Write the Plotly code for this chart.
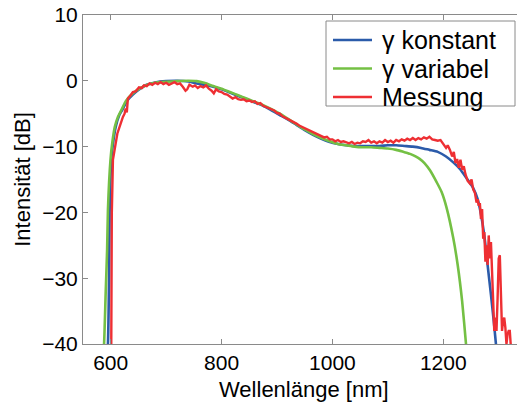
import plotly.graph_objects as go

# Simulated spectrum, constant nonlinear coefficient
konst_nm = [593, 595, 597, 598, 601, 605, 609, 615, 621, 630, 640, 650, 665, 680, 700, 720,
            740, 755, 770, 785, 800, 815, 830, 845, 860, 875, 890, 905, 920, 935, 950, 965,
            980, 995, 1010, 1025, 1040, 1055, 1070, 1085, 1100, 1115, 1130, 1145, 1160, 1175,
            1190, 1205, 1218, 1230, 1242, 1254, 1262, 1268, 1274, 1280, 1286, 1291, 1295, 1298]
konst_db = [-42, -40, -30, -20, -12, -9, -7, -5.3, -4.4, -3.0, -2.1, -1.4, -0.6, -0.25, -0.05, 0,
            -0.1, -0.4, -0.6, -0.9, -1.3, -1.8, -2.3, -2.8, -3.3, -3.8, -4.5, -5.2, -5.9, -6.7, -7.5, -8.2,
            -8.8, -9.3, -9.6, -9.8, -9.9, -9.9, -9.9, -9.9, -9.8, -9.8, -9.9, -10.0, -10.2, -10.5,
            -10.8, -11.5, -12.4, -13.4, -14.8, -16.3, -18.0, -20.3, -23.5, -28.0, -32.5, -36.5, -40, -43]

# Simulated spectrum, wavelength-dependent nonlinear coefficient
var_nm = [586, 588, 591, 593.5, 595, 599.6, 603, 607.4, 613, 619.5, 628, 640, 652, 665, 680, 700,
          720, 740, 755, 770, 785, 800, 815, 830, 845, 860, 875, 890, 905, 920, 935, 950,
          965, 980, 995, 1010, 1025, 1040, 1055, 1070, 1085, 1100, 1115, 1128, 1140, 1150,
          1158, 1166, 1176, 1188, 1197, 1206, 1218, 1226, 1234, 1241, 1243]
var_db = [-42, -40, -32, -25.7, -19.6, -12.0, -9.3, -7.0, -5.5, -4.4, -3.0, -1.9, -1.2, -0.64, -0.3, -0.15,
          -0.05, 0, -0.05, -0.35, -0.8, -1.2, -1.7, -2.2, -2.7, -3.2, -3.7, -4.3, -5.0, -5.8, -6.6, -7.4,
          -8.1, -8.7, -9.2, -9.6, -9.8, -10.0, -10.1, -10.1, -10.2, -10.3, -10.5, -10.8, -11.1, -11.5,
          -11.9, -12.5, -13.6, -15.4, -16.9, -19.3, -23.9, -28, -33.5, -40, -42]

# Measured spectrum
mess_nm = [601, 601.5, 602, 604, 607, 609, 612, 616, 619, 622, 625, 627, 629, 631, 635, 640,
           645, 651, 656, 660, 665, 670, 675, 680, 685, 690, 695, 700, 705, 710, 715, 720,
           725, 730, 735, 738, 742, 748, 752, 757, 762, 767, 772, 777, 782, 786, 790, 795,
           800, 805, 810, 815, 820, 825, 830, 835, 840, 845, 850, 855, 860, 865, 870, 875,
           880, 885, 890, 895, 900, 905, 910, 915, 920, 925, 930, 935, 940, 945, 950, 955,
           960, 965, 970, 975, 980, 985, 990, 995, 1000, 1005, 1010, 1015, 1020, 1025, 1030, 1035,
           1040, 1045, 1050, 1055, 1060, 1065, 1070, 1075, 1080, 1085, 1090, 1095, 1100, 1105, 1110, 1115,
           1120, 1125, 1130, 1135, 1140, 1145, 1150, 1155, 1160, 1165, 1170, 1175, 1180, 1185, 1190, 1195,
           1200, 1205, 1208, 1212, 1216, 1219, 1222, 1225, 1228, 1231, 1234, 1237, 1240, 1244, 1248, 1251,
           1254, 1257, 1260, 1262, 1264, 1266, 1268, 1270, 1272, 1274, 1276, 1278, 1280, 1282, 1284, 1286,
           1288, 1290, 1292, 1294, 1296, 1298, 1300, 1302, 1304, 1306, 1308, 1310, 1312, 1314, 1316, 1318,
           1320, 1322]
mess_db = [-40, -30, -20, -12, -10, -9.5, -8, -7, -6, -5.5, -5, -4.2, -4.8, -2.7, -2.3, -1.7,
           -1.6, -1.0, -1.1, -0.7, -0.8, -0.4, -0.6, -0.3, -0.5, -0.2, -0.5, -0.3, -0.6, -0.4, -0.2, -0.5,
           -0.4, -0.9, -1.5, -1.3, -0.6, -0.9, -0.7, -1.1, -0.8, -1.0, -0.7, -1.2, -1.5, -1.9, -1.3, -1.6,
           -1.7, -2.0, -2.1, -2.4, -2.7, -2.5, -2.8, -2.9, -2.8, -3.1, -3.0, -3.2, -3.1, -3.5, -3.4, -3.8,
           -4.0, -4.1, -4.4, -4.5, -4.9, -5.0, -5.4, -5.6, -5.9, -6.0, -6.3, -6.5, -6.8, -7.0, -7.3, -7.5,
           -7.7, -7.9, -8.1, -8.3, -8.4, -8.6, -8.5, -8.9, -8.9, -9.2, -9.0, -9.3, -9.2, -9.4, -9.5, -9.3,
           -9.6, -9.4, -9.5, -9.2, -9.3, -9.0, -9.4, -9.2, -9.5, -9.2, -9.4, -9.0, -9.3, -9.1, -9.4, -9.0,
           -9.2, -8.9, -9.1, -8.8, -9.0, -8.7, -9.0, -8.7, -8.9, -8.6, -8.8, -8.5, -8.9, -9.0, -9.1, -9.0,
           -9.6, -10.2, -9.8, -10.5, -11.5, -10.8, -12.5, -11.9, -13.2, -12.0, -13.5, -13.0, -14.2, -15.2, -15.6, -15.0,
           -16.5, -17.0, -18.5, -18.0, -19.0, -18.6, -21.0, -19.5, -24.0, -23.0, -27.5, -25.0, -28.0, -23.5, -27.0, -24.5,
           -29.0, -33.0, -38.0, -36.0, -38.0, -33.0, -27.0, -26.5, -32.0, -38.0, -36.5, -36.0, -37.5, -40.0, -38.5, -38.0,
           -38.0, -40.5]

series_names = ["γ konstant", "γ variabel", "Messung"]
series_colors = ["#2B5BAA", "#74C044", "#EE2F33"]

x_ticks = [600, 800, 1000, 1200]
y_ticks = [-40, -30, -20, -10, 0, 10]

FONT = "Liberation Sans, Arial, Helvetica, sans-serif"
AXIS_GRAY = "#8a8a8a"

# Figure geometry (pixels)
W, H = 517, 407
ML, MR, MT, MB = 83, 0, 15, 63
PW, PH = W - ML - MR, H - MT - MB


def px_x(p):
    return (p - ML) / PW


def px_y(p):
    return (H - MB - p) / PH


fig = go.Figure()
fig.add_trace(go.Scatter(x=konst_nm, y=konst_db, mode="lines", name=series_names[0],
                         line=dict(color=series_colors[0], width=2.6, shape="spline", smoothing=0.6)))
fig.add_trace(go.Scatter(x=var_nm, y=var_db, mode="lines", name=series_names[1],
                         line=dict(color=series_colors[1], width=2.6, shape="spline", smoothing=0.6)))
fig.add_trace(go.Scatter(x=mess_nm, y=mess_db, mode="lines", name=series_names[2],
                         line=dict(color=series_colors[2], width=2.4)))

# Legend box drawn by hand for tight row spacing
shapes = [dict(type="rect", xref="paper", yref="paper",
               x0=px_x(326), x1=px_x(515), y0=px_y(106), y1=px_y(21),
               line=dict(color=AXIS_GRAY, width=1), fillcolor="white", layer="above")]
annotations = []
row_y = [40, 68.5, 97]
for name, color, ry in zip(series_names, series_colors, row_y):
    shapes.append(dict(type="line", xref="paper", yref="paper",
                       x0=px_x(333), x1=px_x(372), y0=px_y(ry), y1=px_y(ry),
                       line=dict(color=color, width=2.6), layer="above"))
    annotations.append(dict(text=name, xref="paper", yref="paper",
                            x=px_x(380), y=px_y(ry), xanchor="left", yanchor="middle",
                            showarrow=False, font=dict(size=25, family=FONT, color="black")))

# x-axis title centred under the full axis span
annotations.append(dict(text="Wellenlänge [nm]", xref="paper", yref="paper",
                        x=px_x(304), y=px_y(389), xanchor="center", yanchor="middle",
                        showarrow=False, font=dict(size=22, family=FONT, color="black")))

fig.update_layout(
    width=W, height=H,
    margin=dict(l=ML, r=MR, t=MT, b=MB),
    paper_bgcolor="white", plot_bgcolor="white",
    font=dict(family=FONT, color="black", size=21),
    showlegend=False,
    shapes=shapes,
    annotations=annotations,
    xaxis=dict(range=[550, 1333], tickmode="array", tickvals=x_ticks,
               ticks="inside", ticklen=5, tickcolor=AXIS_GRAY,
               showline=True, linecolor=AXIS_GRAY, linewidth=1, mirror="ticks",
               showgrid=False, zeroline=False,
               tickfont=dict(size=21)),
    yaxis=dict(range=[-40, 10], tickmode="array", tickvals=y_ticks,
               ticks="inside", ticklen=5, tickcolor=AXIS_GRAY,
               showline=True, linecolor=AXIS_GRAY, linewidth=1, mirror=False,
               showgrid=False, zeroline=False,
               tickfont=dict(size=21),
               title=dict(text="Intensität [dB]", font=dict(size=22), standoff=5)),
)

fig.write_html("out.html")
